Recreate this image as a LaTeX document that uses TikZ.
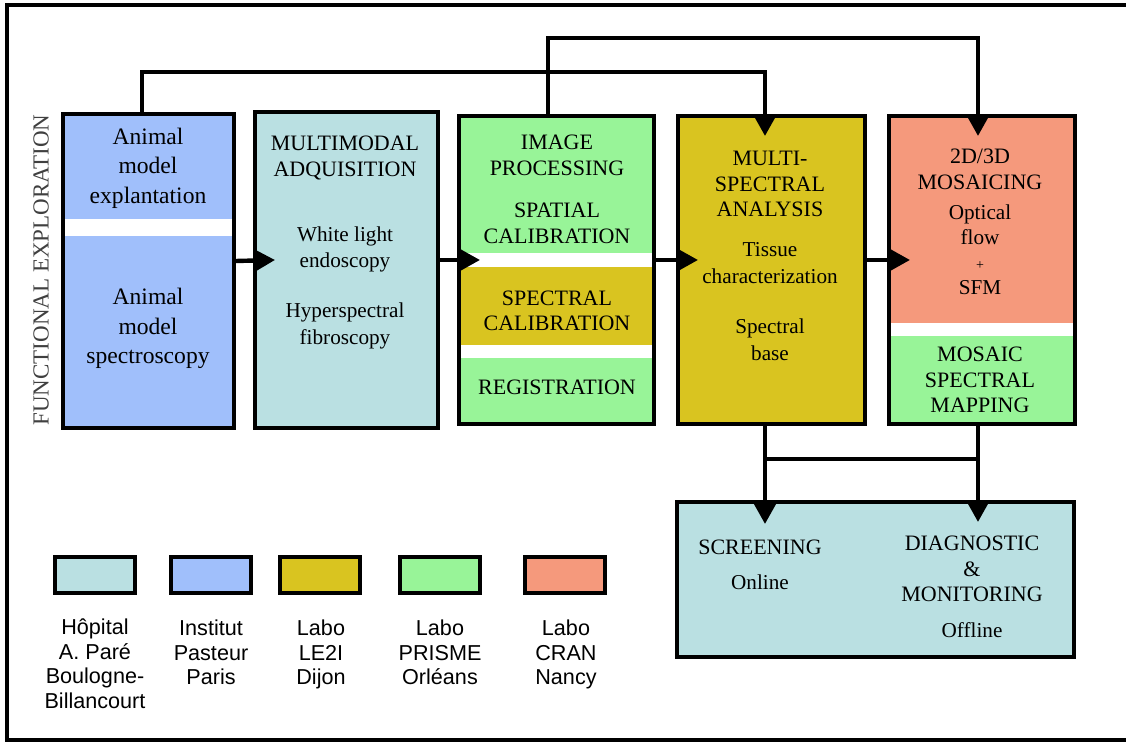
\documentclass[tikz,border=0pt]{standalone}
\usepackage{fontspec}
\setmainfont{Liberation Serif}
\setsansfont{Liberation Sans}
\usetikzlibrary{arrows.meta,calc}

\definecolor{hosp}{HTML}{BAE0E2}
\definecolor{past}{HTML}{A0BFFB}
\definecolor{leii}{HTML}{D9C420}
\definecolor{prism}{HTML}{98F498}
\definecolor{cran}{HTML}{F5997C}

\begin{document}
\begin{tikzpicture}[x=0.5pt,y=-0.5pt,
  stage/.style={draw=black, line width=2pt, inner sep=0pt},
  txt/.style={align=center, font=\fontsize{10.6}{13.25}\selectfont},
  head/.style={align=center, font=\fontsize{11}{12.75}\selectfont},
  link/.style={line width=2.2pt},
  flow/.style={line width=2.2pt, -{Triangle[length=10.5pt,width=11pt]}},
  legbox/.style={draw=black, line width=2pt, minimum width=40pt, minimum height=18pt, inner sep=0pt},
  legtxt/.style={align=center, anchor=north, font=\sffamily\fontsize{10.8}{12.25}\selectfont}]
  \useasboundingbox (0,0) rectangle (1126,742);

  % frame, open on the right
  \draw[line width=1.8pt] (1126,5) -- (7,5) -- (7,740) -- (1126,740);

  \node[rotate=90, text=black!75, font=\fontsize{11.5}{13}\selectfont] (side) at (41,270) {FUNCTIONAL EXPLORATION};

  % the five stages and the output
  \node[stage, fill=past, minimum width=85.5pt, minimum height=157pt] (b1) at (148.5,271) {};
  \node[stage, fill=hosp, minimum width=91.5pt, minimum height=158pt] (b2) at (346.5,270) {};
  \node[stage, fill=prism, minimum width=97.5pt, minimum height=154pt] (b3) at (556.5,270) {};
  \node[stage, fill=leii, minimum width=93.5pt, minimum height=154pt] (b4) at (771.5,270) {};
  \node[stage, fill=cran, minimum width=93pt, minimum height=154pt] (b5) at (982,270) {};
  \node[stage, fill=hosp, minimum width=198.5pt, minimum height=77.5pt] (out) at (875.5,579.5) {};

  % bands inside the boxes
  \fill[white] (65,219) rectangle (232,236);
  \fill[white] (461,253) rectangle (652,267);
  \fill[leii] (461,267) rectangle (652,345);
  \fill[white] (461,345) rectangle (652,358);
  \fill[white] (891,323) rectangle (1073,336);
  \fill[prism] (891,336) rectangle (1073,422);

  \node[txt, font=\fontsize{11.8}{14.75}\selectfont] (t1a) at (148,168) {Animal\\model\\explantation};
  \node[txt, font=\fontsize{11.8}{14.75}\selectfont] (t1b) at (148,328.5) {Animal\\model\\spectroscopy};
  \node[head] (t2a) at (345,158) {MULTIMODAL\\ADQUISITION};
  \node[txt] (t2b) at (345,249.5) {White light\\endoscopy};
  \node[txt] (t2c) at (345,326) {Hyperspectral\\fibroscopy};
  \node[head] (t3a) at (557,155.5) {IMAGE\\PROCESSING};
  \node[head] (t3b) at (557,223.5) {SPATIAL\\CALIBRATION};
  \node[head] (t3c) at (557,311) {SPECTRAL\\CALIBRATION};
  \node[head] (t3d) at (557,387) {REGISTRATION};
  \node[head] (t4a) at (770,184) {MULTI-\\SPECTRAL\\ANALYSIS};
  \node[txt] (t4b) at (770,263) {Tissue\\characterization};
  \node[txt] (t4c) at (770,340) {Spectral\\base};
  \node[head] (t5a) at (980,169.5) {2D/3D\\MOSAICING};
  \node[txt, font=\fontsize{10.6}{12.5}\selectfont] (t5b) at (980,250) {Optical\\flow\\{\scriptsize +}\\SFM};
  \node[head] (t5c) at (980,380) {MOSAIC\\SPECTRAL\\MAPPING};
  \node[head] (o1) at (760,565) {SCREENING\\[4.5pt]{\fontsize{10.6}{12}\selectfont Online}};
  \node[head] (o2) at (972,587) {DIAGNOSTIC\\\&\\MONITORING\\[5pt]{\fontsize{10.6}{12}\selectfont Offline}};

  % chain of arrows
  \draw[flow] ([yshift=5pt]b1.east) -- ([xshift=11pt,yshift=5pt]b2.west);
  \draw[flow] ([yshift=5pt]b2.east) -- ([xshift=11.5pt,yshift=5pt]b3.west);
  \draw[flow] ([yshift=5pt]b3.east) -- ([xshift=11pt,yshift=5pt]b4.west);
  \draw[flow] ([yshift=5pt]b4.east) -- ([xshift=11.5pt,yshift=5pt]b5.west);

  % links over the top
  \draw[flow] ([xshift=-3.25pt]b1.north) -- ++(0,-40) -| ([xshift=-3.25pt,yshift=-11pt]b4.north);
  \draw[flow] ([xshift=-4.25pt]b3.north) -- ++(0,-76) -| ([xshift=-2pt,yshift=-11pt]b5.north);

  % down to the output
  \coordinate (j4) at ([xshift=-3.25pt]b4.south);
  \coordinate (j5) at ([xshift=-2pt]b5.south);
  \draw[flow] (j4) -- ($(out.north -| j4)+(0,24)$);
  \draw[flow] (j5) -- ($(out.north -| j5)+(0,22)$);
  \draw[link] ($(j4)+(0,33)$) -- ($(j5)+(0,33)$);

  % legend
  \node[legbox, fill=hosp] (k1) at (95,575) {};
  \node[legbox, fill=past] (k2) at (211,575) {};
  \node[legbox, fill=leii] (k3) at (320,575) {};
  \node[legbox, fill=prism] (k4) at (440,575) {};
  \node[legbox, fill=cran] (k5) at (565,575) {};
  \node[legtxt] (l1) at (95,612) {Hôpital\\A. Paré\\Boulogne-\\Billancourt};
  \node[legtxt] (l2) at (211,613) {Institut\\Pasteur\\Paris};
  \node[legtxt] (l3) at (321,613) {Labo\\LE2I\\Dijon};
  \node[legtxt] (l4) at (440,613) {Labo\\PRISME\\Orléans};
  \node[legtxt] (l5) at (566,613) {Labo\\CRAN\\Nancy};
\end{tikzpicture}
\end{document}
